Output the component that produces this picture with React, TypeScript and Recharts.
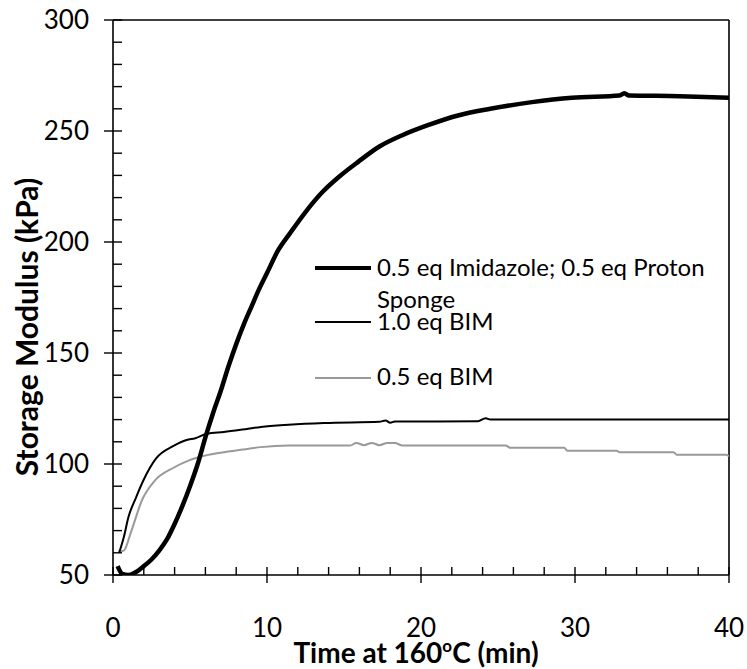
import { LineChart, Line, XAxis, YAxis, ReferenceLine } from 'recharts';

// 0.5 eq Imidazole; 0.5 eq Proton Sponge
const imidTime = [0.3, 0.6, 1.0, 1.4, 2.0, 2.5, 3.0, 3.5, 4.0, 4.5, 5.0, 5.5, 6.0, 6.5, 7.0, 7.5, 8.0, 8.5, 9.0, 9.5, 10.0, 10.7, 11.5, 12.5, 13.6, 14.7, 15.9, 17.3, 18.75, 20.4, 22.4, 24.5, 27.2, 29.8, 32.9, 33.2, 33.5, 36.8, 40];
const imidModulus = [54, 50.5, 50, 51, 54, 57, 61, 66, 73, 81, 90, 100, 112, 123, 133, 144, 154, 163, 171, 179, 186, 196, 204, 213.5, 222.5, 229.5, 236, 243, 248, 252.5, 257, 260, 263, 265, 266, 267, 266, 265.7, 265];

// 1.0 eq BIM
const bim10Time = [0.4, 0.7, 1.0, 1.5, 2.0, 2.8, 3.9, 4.9, 5.3, 6.1, 7.2, 8.4, 9.6, 11.4, 13.7, 17.3, 17.7, 18.0, 18.3, 23.7, 24.2, 24.5, 24.9, 30, 35, 40];
const bim10Modulus = [60, 67, 76, 85, 93, 102.5, 108, 111, 111.5, 113.6, 114.4, 115.5, 116.7, 117.7, 118.5, 119, 119.6, 118.6, 119.1, 119.3, 120.6, 120, 120, 120, 120, 120];

// 0.5 eq BIM
const bim05Time = [0.35, 0.7, 1.2, 1.9, 2.7, 3.9, 4.9, 6.0, 7.2, 8.4, 9.6, 11.4, 15.4, 15.8, 16.3, 16.8, 17.3, 17.8, 18.3, 18.8, 19.7, 25.5, 25.8, 29.3, 29.5, 32.7, 32.9, 36.4, 36.6, 39.8, 40];
const bim05Modulus = [60.5, 61, 70, 84, 92.4, 98.2, 101.5, 103.8, 105.3, 106.5, 107.6, 108.3, 108.3, 109.5, 108.5, 109.5, 108.5, 109.5, 109.5, 108.3, 108.3, 108.3, 107.3, 107.3, 106, 106, 105.3, 105.3, 104.2, 104.2, 103.5];

const seriesNames = ['0.5 eq Imidazole; 0.5 eq Proton Sponge', '1.0 eq BIM', '0.5 eq BIM'];
const xTicks = [0, 2, 4, 6, 8, 10, 12, 14, 16, 18, 20, 22, 24, 26, 28, 30, 32, 34, 36, 38, 40];
const yTicks = [50, 60, 70, 80, 90, 100, 110, 120, 130, 140, 150, 160, 170, 180, 190, 200, 210, 220, 230, 240, 250, 260, 270, 280, 290, 300];

const toPoints = (ts: number[], vs: number[]) => ts.map((t, i) => ({ t, v: vs[i] }));

const imidData = toPoints(imidTime, imidModulus);
const bim10Data = toPoints(bim10Time, bim10Modulus);
const bim05Data = toPoints(bim05Time, bim05Modulus);

const FONT = 'Lato, sans-serif';

const renderXTick = (props: any) => {
  const x = Number(props.x);
  const y = Number(props.y);
  const value = props.payload.value;
  const major = value % 10 === 0;
  return (
    <g>
      <path d={`M${x},${y - 8}V${major ? y + 8 : y}`} stroke="#000000" strokeWidth={1.4} fill="none" />
      {major && (
        <text x={x} y={y + 62} textAnchor="middle" fontSize={26} fontFamily={FONT} fill="#000">
          {value}
        </text>
      )}
    </g>
  );
};

const renderYTick = (props: any) => {
  const x = Number(props.x);
  const y = Number(props.y);
  const value = props.payload.value;
  const major = value % 50 === 0;
  return (
    <g>
      <path d={`M${major ? x - 9 : x},${y}H${x + 9}`} stroke="#000000" strokeWidth={1.4} fill="none" />
      {major && (
        <text x={x - 24} y={y + 9} textAnchor="end" fontSize={26} fontFamily={FONT} fill="#000">
          {value}
        </text>
      )}
    </g>
  );
};

const xTitle = (props: any) => {
  const { x, y, width, height } = props.viewBox;
  return (
    <text x={x + width / 2 - 5} y={y + height - 6} textAnchor="middle" fontSize={28} fontWeight="bold" fontFamily={FONT} fill="#000">
      Time at 160
      <tspan dy={-11} fontSize={17}>o</tspan>
      <tspan dy={11}>C (min)</tspan>
    </text>
  );
};

const yTitle = () => {
  const cx = 26;
  const cy = 327;
  return (
    <text x={cx} y={cy} transform={`rotate(-90, ${cx}, ${cy})`} textAnchor="middle" dominantBaseline="central" fontSize={30} fontWeight="bold" fontFamily={FONT} fill="#000">
      Storage Modulus (kPa)
    </text>
  );
};

const legendStyles = [
  { stroke: '#000', width: 4.5, lineTop: 268, textTop: 251 },
  { stroke: '#000', width: 2, lineTop: 322, textTop: 305 },
  { stroke: '#999', width: 2, lineTop: 378, textTop: 360 },
];

function LegendBox() {
  return (
    <>
      {legendStyles.map((s, i) => (
        <div key={`l${i}`}>
          <div style={{ position: 'absolute', left: 315, top: s.lineTop - s.width / 2, width: 56, height: s.width, background: s.stroke }} />
          <div
            style={{
              position: 'absolute',
              left: 377,
              top: s.textTop,
              width: 345,
              fontSize: 24,
              fontFamily: FONT,
              color: '#000',
              lineHeight: '32px',
            }}
          >
            {seriesNames[i]}
          </div>
        </div>
      ))}
    </>
  );
}

export default function App() {
  return (
    <div style={{ position: 'absolute', left: 0, top: 0, width: 747, height: 669, background: '#fff' }}>
      <LineChart width={747} height={669} margin={{ top: 20, right: 18, left: 0, bottom: 0 }}>
        <XAxis
          dataKey="t"
          type="number"
          domain={[0, 40]}
          ticks={xTicks}
          interval={0}
          height={94}
          tickSize={0}
          tickMargin={0}
          tickLine={false}
          tick={renderXTick}
          axisLine={{ stroke: '#000', strokeWidth: 1.6 }}
          allowDataOverflow
          label={xTitle}
        />
        <YAxis
          dataKey="v"
          type="number"
          domain={[50, 300]}
          ticks={yTicks}
          interval={0}
          width={113}
          tickSize={0}
          tickMargin={0}
          tickLine={false}
          tick={renderYTick}
          axisLine={{ stroke: '#000', strokeWidth: 1.6 }}
          allowDataOverflow
          label={yTitle}
        />
        <ReferenceLine y={300} stroke="#000" strokeWidth={1.6} />
        <ReferenceLine x={40} stroke="#000" strokeWidth={1.6} />
        <Line data={bim05Data} dataKey="v" name={seriesNames[2]} type="monotone" stroke="#999" strokeWidth={2} dot={false} isAnimationActive={false} />
        <Line data={bim10Data} dataKey="v" name={seriesNames[1]} type="monotone" stroke="#000" strokeWidth={2} dot={false} isAnimationActive={false} />
        <Line data={imidData} dataKey="v" name={seriesNames[0]} type="monotone" stroke="#000" strokeWidth={4.5} dot={false} isAnimationActive={false} />
      </LineChart>
      <LegendBox />
    </div>
  );
}
